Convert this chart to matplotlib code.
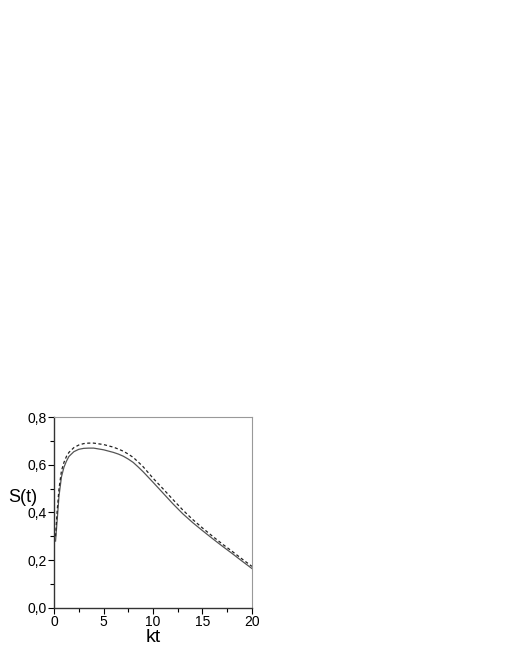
import matplotlib.pyplot as plt
from matplotlib.ticker import MultipleLocator, FuncFormatter

# === Data ===
kt = [0.15, 0.3, 0.5, 0.75, 1.0, 1.25, 1.5, 2.0, 2.5, 3.0, 3.5, 4.0, 5.0, 6.0, 6.5, 7.0,
      7.5, 8.0, 8.5, 9.0, 10.0, 11.0, 12.0, 13.0, 14.0, 15.0, 16.0, 17.0, 18.0, 19.0, 20.0]
s_solid = [0.28, 0.36, 0.47, 0.55, 0.59, 0.615, 0.635, 0.655, 0.665, 0.669, 0.670, 0.670,
           0.663, 0.652, 0.645, 0.636, 0.624, 0.610, 0.591, 0.571, 0.527, 0.482, 0.437,
           0.395, 0.358, 0.324, 0.291, 0.259, 0.228, 0.196, 0.165]
s_dashed = [0.30, 0.40, 0.50, 0.575, 0.61, 0.635, 0.652, 0.672, 0.683, 0.689, 0.691, 0.691,
            0.685, 0.674, 0.666, 0.657, 0.645, 0.631, 0.612, 0.592, 0.544, 0.500, 0.455,
            0.411, 0.371, 0.335, 0.301, 0.268, 0.237, 0.205, 0.174]

plt.rcParams.update({
    "font.family": ["Liberation Sans", "DejaVu Sans"],
    "font.size": 10,
})

fig = plt.figure(figsize=(5.1, 6.6), dpi=100)
ax = fig.add_axes([0.106, 0.079, 0.388, 0.289])

ax.plot(kt, s_solid, color="#555555", linewidth=0.9)
ax.plot(kt, s_dashed, color="#222222", linewidth=0.9, linestyle=(0, (2.5, 2)))

ax.set_xlim(0, 20)
ax.set_ylim(0, 0.8)
ax.xaxis.set_major_locator(MultipleLocator(5))
ax.xaxis.set_minor_locator(MultipleLocator(2.5))
ax.yaxis.set_major_locator(MultipleLocator(0.2))
ax.yaxis.set_minor_locator(MultipleLocator(0.1))
ax.yaxis.set_major_formatter(FuncFormatter(lambda v, p: f"{v:.1f}".replace(".", ",")))
ax.tick_params(which="major", direction="out", length=4, width=0.8, pad=1.5, labelsize=10)
ax.tick_params(which="minor", direction="out", length=3, width=0.8)

for side in ["top", "right"]:
    ax.spines[side].set_color("#999999")
    ax.spines[side].set_linewidth(0.8)
for side in ["left", "bottom"]:
    ax.spines[side].set_color("#333333")
    ax.spines[side].set_linewidth(1.0)

ax.set_xlabel("kt", fontsize=14, labelpad=0)
ax.set_ylabel("S(t)", fontsize=13, rotation=0, ha="right", va="center")
ax.yaxis.set_label_coords(-0.085, 0.58)

fig.savefig("out.png", dpi=100)
